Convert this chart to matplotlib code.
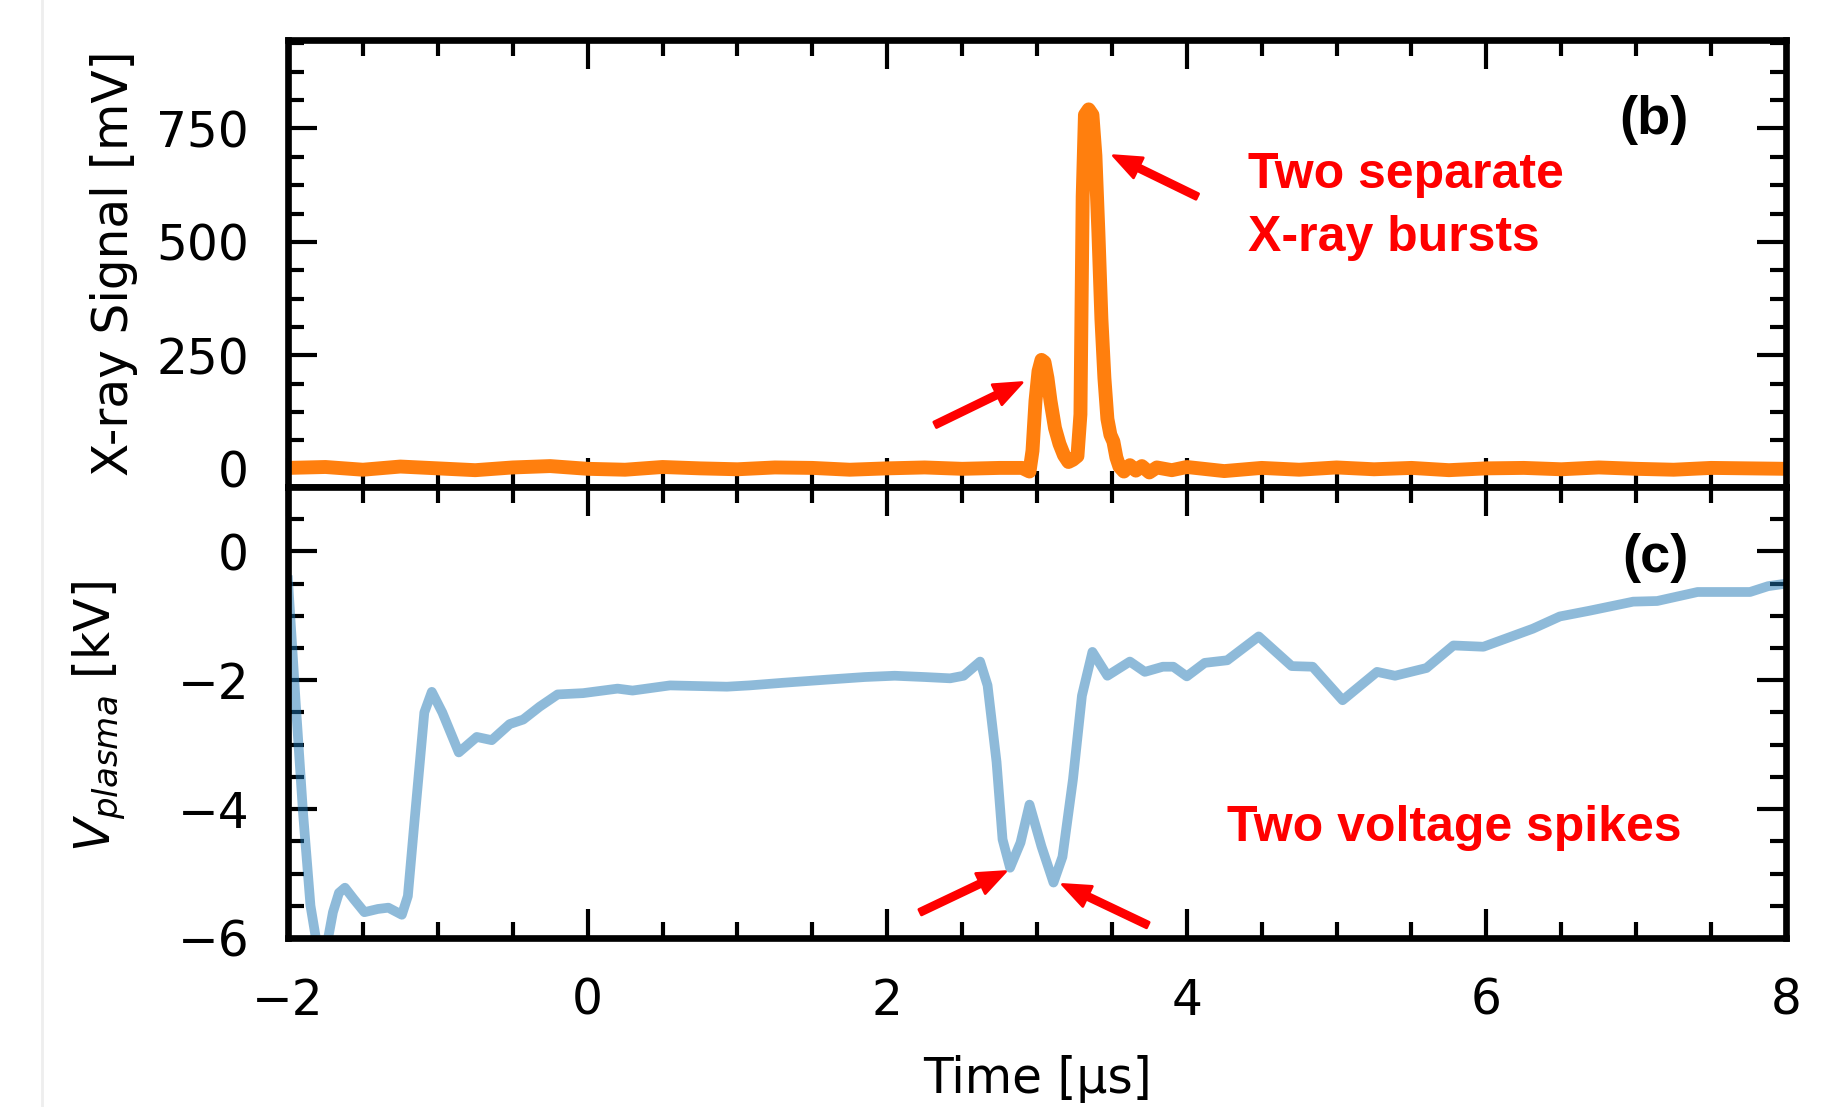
import matplotlib
matplotlib.use("Agg")
import matplotlib.pyplot as plt
from matplotlib.lines import Line2D
from matplotlib.ticker import MultipleLocator

# X-ray detector trace, panel (b)
xray_t = [-2.0, -1.75, -1.5, -1.25, -1.0, -0.75, -0.5, -0.25, 0.0, 0.25, 0.5, 0.75,
          1.0, 1.25, 1.5, 1.75, 2.0, 2.25, 2.5, 2.75, 2.90, 2.95, 2.97, 2.99, 3.01,
          3.03, 3.05, 3.07, 3.09, 3.12, 3.15, 3.18, 3.21, 3.24, 3.27, 3.29, 3.305,
          3.32, 3.345, 3.37, 3.39, 3.41, 3.43, 3.45, 3.47, 3.49, 3.51, 3.53, 3.55,
          3.58, 3.62, 3.66, 3.70, 3.75, 3.80, 3.90, 4.0, 4.25, 4.5, 4.75, 5.0, 5.25,
          5.5, 5.75, 6.0, 6.25, 6.5, 6.75, 7.0, 7.25, 7.5, 7.75, 8.0]
xray_mv = [2, 4, -2, 5, 1, -3, 3, 6, 0, -2, 4, 1,
           -1, 3, 2, -2, 1, 3, 0, 2, 2, -6, 40, 150, 215,
           240, 235, 200, 150, 90, 55, 30, 15, 20, 28, 120, 600,
           780, 792, 780, 690, 520, 330, 200, 110, 75, 60, 25, 5,
           -6, 8, -4, 6, -8, 3, -3, 4, -5, 2, -2, 3, -1,
           2, -3, 1, 2, -1, 3, 0, -2, 2, 1, 0]

# plasma voltage trace, panel (c)
volt_t = [-2.0, -1.95, -1.90, -1.85, -1.80, -1.77, -1.74, -1.70, -1.66, -1.62, -1.56,
          -1.49, -1.40, -1.33, -1.24, -1.20, -1.16, -1.13, -1.09, -1.04, -0.97, -0.86,
          -0.74, -0.64, -0.52, -0.43, -0.32, -0.20, -0.03, 0.20, 0.30, 0.55, 0.93, 1.08,
          1.3, 1.6, 1.85, 2.05, 2.25, 2.42, 2.51, 2.62, 2.67, 2.73, 2.77, 2.82, 2.89,
          2.95, 3.03, 3.11, 3.17, 3.24, 3.30, 3.37, 3.47, 3.62, 3.72, 3.84, 3.91, 4.0,
          4.12, 4.27, 4.48, 4.70, 4.84, 5.04, 5.27, 5.39, 5.60, 5.78, 5.98, 6.31, 6.49,
          6.69, 6.98, 7.14, 7.41, 7.76, 7.88, 8.0]
volt_kv = [-0.45, -2.3, -4.05, -5.5, -6.2, -6.35, -6.1, -5.6, -5.3, -5.22, -5.4,
           -5.6, -5.55, -5.53, -5.64, -5.35, -4.3, -3.53, -2.5, -2.18, -2.5, -3.12,
           -2.88, -2.93, -2.68, -2.61, -2.41, -2.22, -2.2, -2.13, -2.16, -2.08, -2.10, -2.08,
           -2.04, -1.99, -1.95, -1.93, -1.95, -1.97, -1.93, -1.71, -2.08, -3.27, -4.47, -4.91, -4.52,
           -3.93, -4.58, -5.14, -4.74, -3.54, -2.24, -1.56, -1.93, -1.71, -1.87, -1.79, -1.79, -1.94,
           -1.73, -1.69, -1.32, -1.78, -1.79, -2.31, -1.87, -1.93, -1.81, -1.46, -1.48, -1.20, -1.01,
           -0.92, -0.78, -0.77, -0.63, -0.63, -0.54, -0.50]

FS = 17.5
RED = "#ff0000"
ANN_FONT = ["Liberation Sans", "DejaVu Sans"]

fig = plt.figure(figsize=(9.19, 5.535), dpi=200)
ax1 = fig.add_axes([0.1567, 0.5601, 0.8150, 0.4038])
ax2 = fig.add_axes([0.1567, 0.1527, 0.8150, 0.4074])

ax1.plot(xray_t, xray_mv, color="#ff7f0e", lw=5, solid_joinstyle="round")
ax2.plot(volt_t, volt_kv, color="#1f77b4", alpha=0.5, lw=3.5, solid_joinstyle="round")

for ax in (ax1, ax2):
    ax.set_xlim(-2, 8)
    ax.xaxis.set_major_locator(MultipleLocator(2))
    ax.xaxis.set_minor_locator(MultipleLocator(0.5))
    ax.tick_params(which="both", direction="in", top=True, right=True,
                   width=1.5, labelsize=FS, pad=14)
    ax.tick_params(which="major", length=10.5)
    ax.tick_params(which="minor", length=5.8)
    for s in ax.spines.values():
        s.set_linewidth(2.4)

ax1.set_ylim(-40, 945)
ax1.yaxis.set_major_locator(MultipleLocator(250))
ax1.yaxis.set_minor_locator(MultipleLocator(62.5))
ax1.tick_params(labelbottom=False)
ax1.set_ylabel("X-ray Signal [mV]", fontsize=FS)
ax1.yaxis.set_label_coords(-0.100, 0.5)

ax2.set_ylim(-6, 1)
ax2.yaxis.set_major_locator(MultipleLocator(2))
ax2.yaxis.set_minor_locator(MultipleLocator(0.5))
ax2.set_ylabel(r"$V_{plasma}$ [kV]", fontsize=FS)
ax2.yaxis.set_label_coords(-0.107, 0.49)
ax2.set_xlabel("Time [µs]", fontsize=FS, labelpad=11)

ax1.text(0.935, 0.82, "(b)", transform=ax1.transAxes, ha="right", va="center",
         fontsize=19.5, fontweight="bold", family=ANN_FONT)
ax2.text(0.935, 0.842, "(c)", transform=ax2.transAxes, ha="right", va="center",
         fontsize=19.5, fontweight="bold", family=ANN_FONT)

ax1.text(4.41, 578, "Two separate\nX-ray bursts", color=RED, fontsize=18,
         fontweight="bold", family=ANN_FONT, ha="left", va="center", linespacing=1.45)
ax2.text(4.27, -4.3, "Two voltage spikes", color=RED, fontsize=18,
         fontweight="bold", family=ANN_FONT, ha="left", va="center")

arrow = dict(facecolor=RED, edgecolor=RED, width=2.2, headwidth=8, headlength=10, shrink=0)
ax1.annotate("", xy=(3.51, 690), xytext=(4.07, 600), arrowprops=arrow)
ax1.annotate("", xy=(2.90, 190), xytext=(2.32, 97), arrowprops=arrow)
ax2.annotate("", xy=(2.79, -4.97), xytext=(2.22, -5.6), arrowprops=arrow)
ax2.annotate("", xy=(3.17, -5.17), xytext=(3.74, -5.8), arrowprops=arrow)

# faint crop border visible in the original
fig.add_artist(Line2D([0.023, 0.023], [0, 1], color="#eeeeee", lw=1))

fig.savefig("out.png", dpi=200)
